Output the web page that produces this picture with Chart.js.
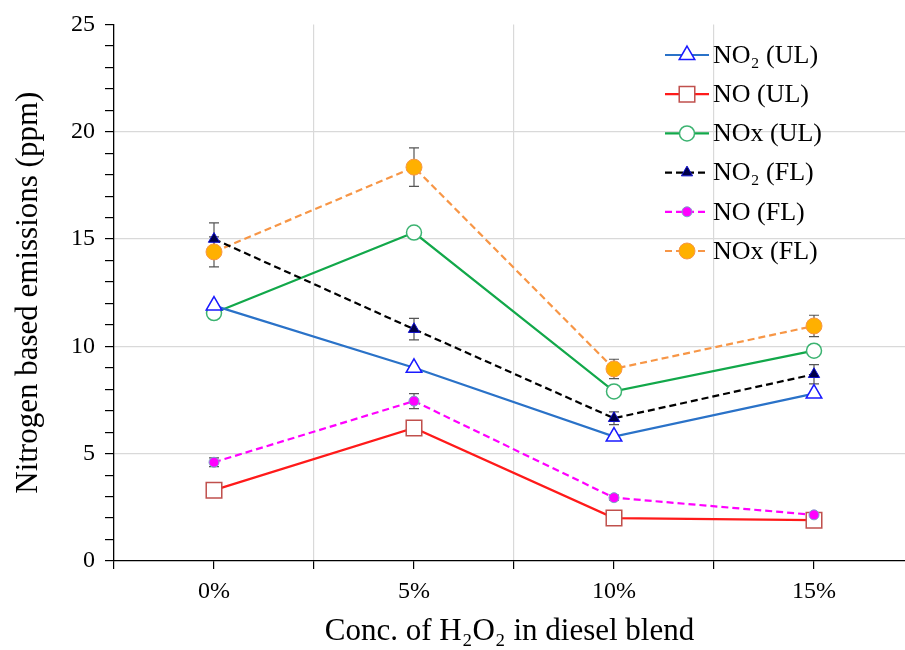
<!DOCTYPE html>
<html>
<head>
<meta charset="utf-8">
<script src="https://cdn.jsdelivr.net/npm/chart.js@4.4.1/dist/chart.umd.min.js"></script>
<style>
  html, body { margin: 0; padding: 0; background: #fff; overflow: hidden; }
  canvas { display: block; }
</style>
</head>
<body>
<canvas id="chart-canvas" width="905" height="650"></canvas>
<script>
// values
const categories = ['0%', '5%', '10%', '15%'];
const no2UL = [11.9, 9.0, 5.8, 7.8];
const noUL  = [3.3, 6.2, 2.0, 1.9];
const noxUL = [11.55, 15.3, 7.9, 9.8];
const no2FL = [15.0, 10.8, 6.65, 8.7];
const noFL  = [4.6, 7.45, 2.95, 2.15];
const noxFL = [14.4, 18.35, 8.95, 10.95];
// error bars (only the FL series have them)
const no2FLErr = [0.75, 0.5, 0.3, 0.45];
const noFLErr  = [0.2, 0.35, 0.12, 0.1];
const noxFLErr = [0.7, 0.9, 0.45, 0.5];
const yTickLabels = [0, 5, 10, 15, 20, 25];

const SERIF = "'Liberation Serif', 'Times New Roman', serif";
const pts = arr => arr.map((v, i) => ({ x: i, y: v }));

// order: FL series are painted on top of the UL ones
const datasets = [
  { label: 'NO\u2082 (UL)', data: pts(no2UL), order: 2, borderColor: '#2a72c8', borderWidth: 2.2,
    pointStyle: 'triangle', pointRadius: 9, pointBackgroundColor: '#fff', pointBorderColor: '#1a1aff', pointBorderWidth: 1.5 },
  { label: 'NO (UL)', data: pts(noUL), order: 2, borderColor: '#ff1a1a', borderWidth: 2.2,
    pointStyle: 'rect', pointRadius: 11, pointBackgroundColor: '#fff', pointBorderColor: '#c0504d', pointBorderWidth: 1.5 },
  { label: 'NOx (UL)', data: pts(noxUL), order: 2, borderColor: '#12a84a', borderWidth: 2.2,
    pointStyle: 'circle', pointRadius: 7.5, pointBackgroundColor: '#fff', pointBorderColor: '#3cb371', pointBorderWidth: 1.5 },
  { label: 'NO\u2082 (FL)', data: pts(no2FL), order: 1, borderColor: '#000', borderWidth: 2.2, borderDash: [7, 4],
    pointStyle: 'triangle', pointRadius: 6.5, pointBackgroundColor: '#00004a', pointBorderColor: '#1010d0', pointBorderWidth: 1,
    err: no2FLErr },
  { label: 'NO (FL)', data: pts(noFL), order: 1, borderColor: '#ff00ff', borderWidth: 2.2, borderDash: [7, 4],
    pointStyle: 'circle', pointRadius: 5, pointBackgroundColor: '#ff00ff', pointBorderColor: '#7aa6c9', pointBorderWidth: 1,
    err: noFLErr },
  { label: 'NOx (FL)', data: pts(noxFL), order: 1, borderColor: '#f79646', borderWidth: 2.2, borderDash: [7, 4],
    pointStyle: 'circle', pointRadius: 8, pointBackgroundColor: '#ffb000', pointBorderColor: '#f79646', pointBorderWidth: 1,
    err: noxFLErr }
];

// error bars, drawn under the markers
const errorBars = {
  id: 'errorBars',
  beforeDatasetsDraw(chart) {
    const { ctx, scales: { x, y } } = chart;
    ctx.save();
    ctx.strokeStyle = '#555';
    ctx.lineWidth = 1.2;
    chart.data.datasets.forEach(ds => {
      if (!ds.err) return;
      ds.data.forEach((p, i) => {
        const px = x.getPixelForValue(p.x);
        const top = y.getPixelForValue(p.y + ds.err[i]);
        const bot = y.getPixelForValue(p.y - ds.err[i]);
        ctx.beginPath();
        ctx.moveTo(px, top); ctx.lineTo(px, bot);
        ctx.moveTo(px - 5, top); ctx.lineTo(px + 5, top);
        ctx.moveTo(px - 5, bot); ctx.lineTo(px + 5, bot);
        ctx.stroke();
      });
    });
    ctx.restore();
  }
};

// legend: line + marker + text, like the spreadsheet one
const lineLegend = {
  id: 'lineLegend',
  afterDraw(chart) {
    const ctx = chart.ctx;
    ctx.save();
    chart.data.datasets.forEach((ds, i) => {
      const yy = 55 + i * 39.2;
      ctx.strokeStyle = ds.borderColor;
      ctx.lineWidth = ds.borderWidth;
      ctx.setLineDash(ds.borderDash || []);
      ctx.beginPath();
      ctx.moveTo(665, yy); ctx.lineTo(709, yy);
      ctx.stroke();
      ctx.setLineDash([]);
      ctx.fillStyle = ds.pointBackgroundColor;
      ctx.strokeStyle = ds.pointBorderColor;
      ctx.lineWidth = ds.pointBorderWidth;
      Chart.helpers.drawPoint(ctx, { pointStyle: ds.pointStyle, radius: ds.pointRadius,
        rotation: 0, borderWidth: ds.pointBorderWidth }, 687, yy);
      ctx.fillStyle = '#000';
      ctx.font = '26px ' + SERIF;
      ctx.textBaseline = 'middle';
      ctx.fillText(ds.label, 713, yy + 1);
    });
    ctx.restore();
  }
};

const leftEdge = 114;
const xMax = -0.5 + (905 - leftEdge) / 200;

new Chart(document.getElementById('chart-canvas').getContext('2d'), {
  type: 'line',
  data: { datasets },
  options: {
    responsive: false,
    animation: false,
    layout: { autoPadding: false, padding: { top: 24, right: 0, bottom: 0, left: 0 } },
    plugins: { legend: { display: false }, tooltip: { enabled: false } },
    scales: {
      x: {
        type: 'linear',
        min: -0.5,
        max: xMax,
        afterBuildTicks: s => {
          const t = [];
          for (let v = -0.5; v <= categories.length - 1; v += 0.5) t.push({ value: v });
          s.ticks = t;
        },
        afterFit: s => { s.height = 89; s.paddingRight = 0; s.paddingLeft = 0; },
        ticks: {
          autoSkip: false,
          maxRotation: 0,
          color: '#000',
          padding: 8,
          font: { family: SERIF, size: 24 },
          callback: v => Number.isInteger(v) ? categories[v] : ''
        },
        grid: {
          color: c => (c.tick && !Number.isInteger(c.tick.value) && c.tick.value > 0) ? '#d9d9d9' : 'rgba(0,0,0,0)',
          tickColor: '#000',
          tickLength: 8,
          lineWidth: 1.2
        },
        border: { color: '#000', width: 1.3 },
        title: {
          display: true,
          text: 'Conc. of H\u2082O\u2082 in diesel blend',
          color: '#000',
          font: { family: SERIF, size: 31, lineHeight: 1 },
          padding: { top: 0, bottom: 3 }
        }
      },
      y: {
        min: 0,
        max: 25,
        afterFit: s => { s.width = leftEdge; },
        ticks: {
          stepSize: 1,
          autoSkip: false,
          color: '#000',
          padding: 10,
          font: { family: SERIF, size: 24 },
          callback: v => yTickLabels.includes(v) ? String(v) : ''
        },
        grid: {
          color: c => (c.tick && c.tick.value % 5 === 0 && c.tick.value > 0 && c.tick.value < 25) ? '#d9d9d9' : 'rgba(0,0,0,0)',
          tickColor: '#000',
          tickLength: 9,
          lineWidth: 1.2
        },
        border: { color: '#000', width: 1.3 },
        title: {
          display: true,
          text: 'Nitrogen based emissions (ppm)',
          color: '#000',
          font: { family: SERIF, size: 31, lineHeight: 1 },
          padding: { top: 13, bottom: 0 }
        }
      }
    }
  },
  plugins: [errorBars, lineLegend]
});
</script>
</body>
</html>
